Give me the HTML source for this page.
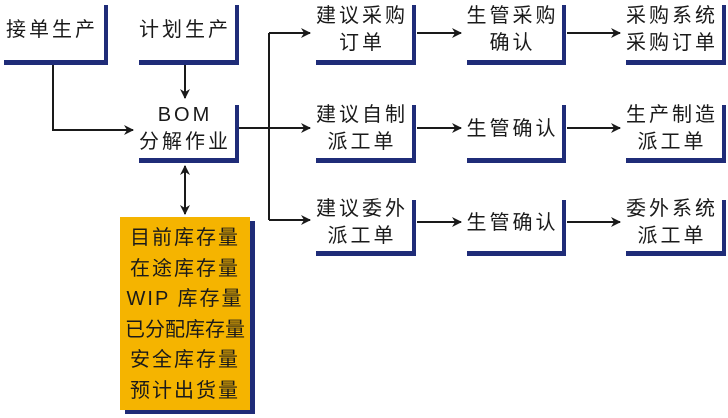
<!DOCTYPE html>
<html><head><meta charset="utf-8"><style>
html,body{margin:0;padding:0;background:#fff;}
body{width:728px;height:418px;position:relative;overflow:hidden;font-family:"Liberation Sans","Noto Sans CJK SC",sans-serif;}
.b{position:absolute;background:#fff;box-shadow:4px 5px 0 #1f2c78;display:flex;align-items:center;justify-content:center;text-align:center;font-size:20px;line-height:27px;color:#1a1a1a;letter-spacing:3px;}
.o{position:absolute;left:120px;top:217px;width:130px;height:193px;background:#f5b400;box-shadow:5px 4px 0 #1f2c78;font-size:20px;line-height:30.5px;color:#1a1a1a;text-align:center;padding-top:6px;box-sizing:border-box;letter-spacing:2px;}
svg{position:absolute;left:0;top:0;}
</style></head><body>
<svg width="728" height="418">
<defs><marker id="a" markerWidth="10" markerHeight="10" refX="9" refY="5" orient="auto" markerUnits="userSpaceOnUse"><path d="M0,0 L10,5 L0,10 L3,5 z" fill="#1a1a1a"/></marker></defs>
<g stroke="#1a1a1a" stroke-width="2" fill="none">
<path d="M53,65 V130 H133" marker-end="url(#a)"/>
<path d="M185,65 V98" marker-end="url(#a)"/>
<path d="M185,190 V166" marker-end="url(#a)"/>
<path d="M185,190 V214" marker-end="url(#a)"/>
<path d="M239,128 H269"/>
<path d="M269,33 V220"/>
<path d="M269,33 H310" marker-end="url(#a)"/>
<path d="M269,128 H310" marker-end="url(#a)"/>
<path d="M269,220 H310" marker-end="url(#a)"/>
<path d="M417,33 H461" marker-end="url(#a)"/>
<path d="M417,128 H461" marker-end="url(#a)"/>
<path d="M417,222 H461" marker-end="url(#a)"/>
<path d="M567,33 H620" marker-end="url(#a)"/>
<path d="M567,128 H620" marker-end="url(#a)"/>
<path d="M567,222 H620" marker-end="url(#a)"/>
</g></svg>
<div class="b" style="left:0;top:0;width:104px;height:60px;">接单生产</div>
<div class="b" style="left:135px;top:0;width:100px;height:60px;">计划生产</div>
<div class="b" style="left:135px;top:100px;width:100px;height:58px;">BOM<br>分解作业</div>
<div class="b" style="left:312px;top:0;width:100px;height:60px;">建议采购<br>订单</div>
<div class="b" style="left:463px;top:0;width:99px;height:60px;">生管采购<br>确认</div>
<div class="b" style="left:622px;top:0;width:100px;height:60px;">采购系统<br>采购订单</div>
<div class="b" style="left:312px;top:100px;width:100px;height:58px;">建议自制<br>派工单</div>
<div class="b" style="left:463px;top:100px;width:99px;height:58px;">生管确认</div>
<div class="b" style="left:622px;top:100px;width:100px;height:58px;">生产制造<br>派工单</div>
<div class="b" style="left:312px;top:195px;width:100px;height:56px;">建议委外<br>派工单</div>
<div class="b" style="left:463px;top:195px;width:99px;height:56px;">生管确认</div>
<div class="b" style="left:622px;top:195px;width:100px;height:56px;">委外系统<br>派工单</div>
<div class="o">目前库存量<br>在途库存量<br>WIP 库存量<br><span style="letter-spacing:0">已分配库存量</span><br>安全库存量<br>预计出货量</div>
</body></html>
